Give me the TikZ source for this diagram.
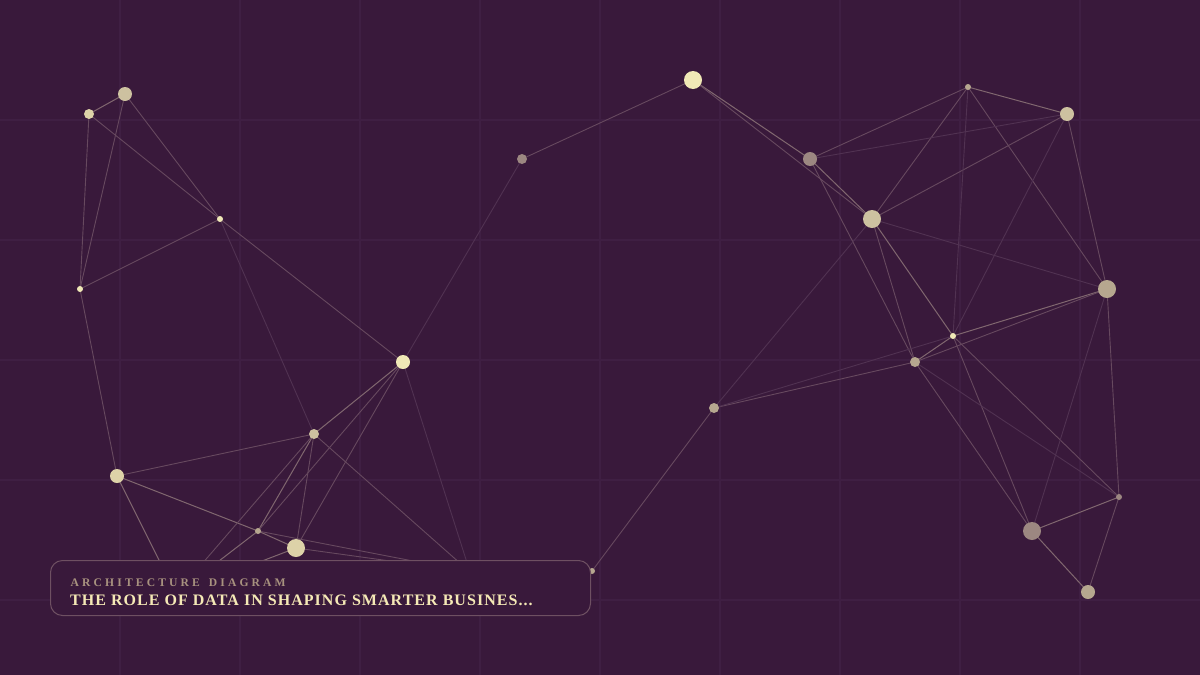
\documentclass[tikz,border=0pt]{standalone}
\usepackage{fontspec}
\setmainfont{Liberation Serif}
\newfontfamily\subfont[LetterSpace=27]{Liberation Serif}
\newfontfamily\titfont[LetterSpace=6.5]{Liberation Serif}
\definecolor{bgc}{HTML}{39193B}
\definecolor{gridc}{HTML}{3F1F43}
\definecolor{edgec}{HTML}{67495F}
\definecolor{edgeb}{HTML}{80676F}
\definecolor{edgef}{HTML}{513252}
\definecolor{boxc}{HTML}{6E5062}
\definecolor{subc}{HTML}{A8927F}
\definecolor{titc}{HTML}{F5E9B6}
\definecolor{nbright}{HTML}{F0E8B6}
\definecolor{nbeige}{HTML}{DDD2A8}
\definecolor{nsand}{HTML}{CDC1A0}
\definecolor{nmuted}{HTML}{B6A78F}
\definecolor{ngrey}{HTML}{9C8781}
\pgfdeclarelayer{back}
\pgfdeclarelayer{edges}
\pgfsetlayers{back,edges,main}
\tikzset{
  dot/.style={circle,inner sep=0pt,draw=none},
  e/.style={draw=edgec,line width=0.9pt},
  eb/.style={draw=edgeb,line width=1pt},
  ef/.style={draw=edgef,line width=0.9pt},
  gridline/.style={draw=gridc,line width=1.2pt},
}
\begin{document}
\begin{tikzpicture}[x=1pt,y=-1pt]
\useasboundingbox (0,0) rectangle (1200,675);
\begin{pgfonlayer}{back}
\fill[bgc] (0,0) rectangle (1200,675);
\foreach \gx in {120,240,...,1080} {\draw[gridline] (\gx,0) -- (\gx,675);}
\foreach \gy in {120,240,...,600} {\draw[gridline] (0,\gy) -- (1200,\gy);}
\end{pgfonlayer}
% nodes
\node[dot,fill=nsand,minimum size=14pt] (A) at (125,94) {};
\node[dot,fill=nbeige,minimum size=10pt] (B) at (89,114) {};
\node[dot,fill=nbright,minimum size=6pt] (C) at (220,219) {};
\node[dot,fill=nbright,minimum size=6pt] (D) at (80,289) {};
\node[dot,fill=nbright,minimum size=14pt] (E) at (403,362) {};
\node[dot,fill=nsand,minimum size=10pt] (F) at (314,434) {};
\node[dot,fill=nbeige,minimum size=14pt] (G) at (117,476) {};
\node[dot,fill=nmuted,minimum size=6pt] (H) at (258,531) {};
\node[dot,fill=nbeige,minimum size=18pt] (I) at (296,548) {};
\node[dot,fill=ngrey,minimum size=10pt] (J) at (522,159) {};
\node[dot,fill=nbright,minimum size=18pt] (K) at (693,80) {};
\node[dot,fill=ngrey,minimum size=14pt] (L) at (810,159) {};
\node[dot,fill=nsand,minimum size=18pt] (M) at (872,219) {};
\node[dot,fill=nmuted,minimum size=6pt] (N) at (968,87) {};
\node[dot,fill=nsand,minimum size=14pt] (O) at (1067,114) {};
\node[dot,fill=nmuted,minimum size=18pt] (P) at (1107,289) {};
\node[dot,fill=nbright,minimum size=6pt] (Q) at (953,336) {};
\node[dot,fill=nmuted,minimum size=10pt] (R) at (915,362) {};
\node[dot,fill=nmuted,minimum size=10pt] (S) at (714,408) {};
\node[dot,fill=ngrey,minimum size=6pt] (T) at (1119,497) {};
\node[dot,fill=ngrey,minimum size=18pt] (U) at (1032,531) {};
\node[dot,fill=nmuted,minimum size=14pt] (V) at (1088,592) {};
\node[dot,fill=nmuted,minimum size=6pt] (W) at (592,571) {};
\coordinate (X1) at (176,594);
\coordinate (X2) at (470,572);
% edges
\begin{pgfonlayer}{edges}
\foreach \a/\b in {A/B,F/H,G/H,H/I,E/F,G/X1,H/X1,I/X1,K/L,L/M,M/Q,N/O,P/Q,Q/R,T/U,U/V}
  {\path[eb] (\a.center) -- (\b.center);}
\foreach \a/\b in {A/C,A/D,B/C,B/D,C/D,C/E,D/G,E/H,E/I,F/G,F/I,F/X1,F/X2,H/X2,I/X2,
  J/K,K/M,L/N,L/R,M/N,M/O,M/R,N/P,O/P,P/R,P/T,Q/U,Q/T,R/S,R/U,S/W,T/V}
  {\path[e] (\a.center) -- (\b.center);}
\foreach \a/\b in {C/F,E/J,E/X2,L/O,M/P,M/S,N/Q,O/Q,P/U,R/T,S/Q}
  {\path[ef] (\a.center) -- (\b.center);}
\end{pgfonlayer}
% title box
\node[draw=boxc,fill=bgc,line width=1pt,rounded corners=12pt,inner sep=0pt,
  minimum width=540pt,minimum height=55pt,anchor=north west] (box) at (50,560) {};
\node[anchor=base west,inner sep=0pt,text=subc,font=\subfont\bfseries\fontsize{11.6}{12}\selectfont] (sub) at (70.5,586.5) {ARCHITECTURE\hspace{3pt} DIAGRAM};
\node[anchor=base west,inner sep=0pt,text=titc,font=\titfont\bfseries\fontsize{16}{18}\selectfont] (tit) at (70,605) {THE ROLE OF DATA IN SHAPING SMARTER BUSINES...};
\end{tikzpicture}
\end{document}
